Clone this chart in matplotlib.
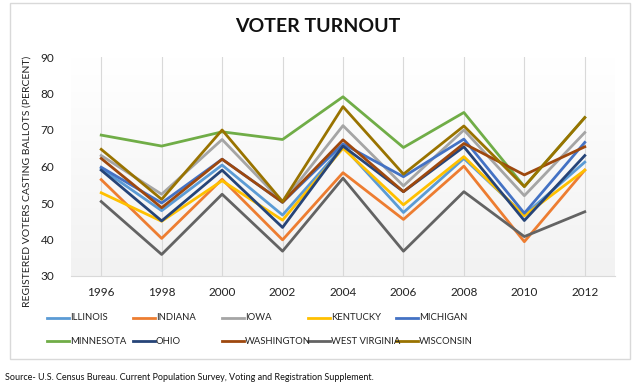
import matplotlib
matplotlib.use('Agg')
import matplotlib.pyplot as plt
import numpy as np
from matplotlib.lines import Line2D
from matplotlib.patches import Rectangle

plt.rcParams['font.family'] = ['Lato', 'DejaVu Sans']

# data
years = ['1996', '1998', '2000', '2002', '2004', '2006', '2008', '2010', '2012']
states = ['ILLINOIS', 'INDIANA', 'IOWA', 'KENTUCKY', 'MICHIGAN',
          'MINNESOTA', 'OHIO', 'WASHINGTON', 'WEST VIRGINIA', 'WISCONSIN']
illinois = [59.4, 47.9, 60.4, 46.7, 65.5, 47.4, 62.2, 46.7, 61.2]
indiana = [56.4, 40.3, 56.5, 39.9, 58.3, 45.5, 60.1, 39.4, 59.0]
iowa = [63.0, 52.4, 67.4, 50.2, 71.2, 54.7, 70.0, 52.0, 69.3]
kentucky = [52.8, 45.0, 56.1, 45.3, 65.0, 49.5, 62.7, 46.5, 59.0]
michigan = [59.8, 50.0, 62.0, 50.2, 66.2, 57.2, 67.5, 47.2, 66.6]
minnesota = [68.6, 65.6, 69.5, 67.4, 79.1, 65.2, 74.8, 54.5, 73.4]
ohio = [59.0, 45.1, 59.0, 43.3, 65.6, 53.1, 65.4, 45.2, 63.0]
washington = [62.2, 48.7, 62.0, 50.2, 67.3, 53.1, 66.3, 57.7, 65.4]
west_virginia = [50.4, 35.9, 52.4, 36.8, 56.8, 36.8, 53.1, 40.8, 47.6]
wisconsin = [64.7, 51.0, 70.0, 50.4, 76.4, 57.9, 71.1, 54.5, 73.4]

series = [illinois, indiana, iowa, kentucky, michigan,
          minnesota, ohio, washington, west_virginia, wisconsin]
colors = ['#5B9BD5', '#ED7D31', '#A5A5A5', '#FFC000', '#4472C4',
          '#70AD47', '#264478', '#9E480E', '#636363', '#997300']

fig = plt.figure(figsize=(6.41, 3.89), dpi=100)

# chart frame
fig.patches.append(Rectangle((10 / 641, 1 - 359 / 389), 620 / 641, 356 / 389,
                             transform=fig.transFigure, fill=False,
                             edgecolor='#d9d9d9', linewidth=1))

ax = fig.add_axes([71 / 641, 1 - 276 / 389, 544 / 641, 219 / 389])

# gradient background of plot area (white -> light gray)
grad = np.linspace(0, 1, 200).reshape(-1, 1)
cmap = matplotlib.colors.LinearSegmentedColormap.from_list('g', ['#ffffff', '#f2f2f2'])
ax.imshow(grad, extent=[-0.5, 8.5, 30, 90], aspect='auto', origin='upper',
          cmap=cmap, interpolation='bilinear', zorder=0)

x = np.arange(len(years))
for vals, c in zip(series, colors):
    ax.plot(x, vals, color=c, linewidth=2, zorder=3)

ax.set_xlim(-0.5, 8.5)
ax.set_ylim(30, 90)
ax.set_xticks(x)
ax.set_xticklabels(years)
ax.set_yticks(range(30, 91, 10))
ax.tick_params(length=0, labelsize=8.5, colors='#222222', pad=8)
ax.tick_params(axis='y', pad=12)
ax.grid(axis='x', color='#d9d9d9', linewidth=0.8, zorder=1)
for s in ['top', 'right', 'left']:
    ax.spines[s].set_visible(False)
ax.spines['bottom'].set_color('#d9d9d9')

ax.set_ylabel('REGISTERED VOTERS CASTING BALLOTS (PERCENT)', fontsize=7.5,
              color='#222222')
ax.yaxis.set_label_coords(-0.072, 0.43)

fig.text(318 / 641, 1 - 27 / 389, 'VOTER TURNOUT', ha='center', va='center',
         fontsize=14, fontweight='bold', color='#111111')

# legend, 2 rows x 5 columns
col_x = [47, 133, 222, 308, 396]
row_y = [318, 341]
for i, (name, c) in enumerate(zip(states, colors)):
    cx = col_x[i % 5]
    cy = row_y[i // 5]
    fig.lines.append(Line2D([cx / 641, (cx + 22) / 641], [1 - cy / 389, 1 - cy / 389],
                            transform=fig.transFigure, color=c, linewidth=2))
    fig.text((cx + 23) / 641, 1 - cy / 389, name, ha='left', va='center',
             fontsize=6.8, color='#222222')

fig.text(5 / 641, 1 - 377 / 389,
         'Source- U.S. Census Bureau. Current Population Survey, Voting and Registration Supplement.',
         ha='left', va='center', fontsize=6.5, color='#111111')

fig.savefig('out.png', dpi=100)
